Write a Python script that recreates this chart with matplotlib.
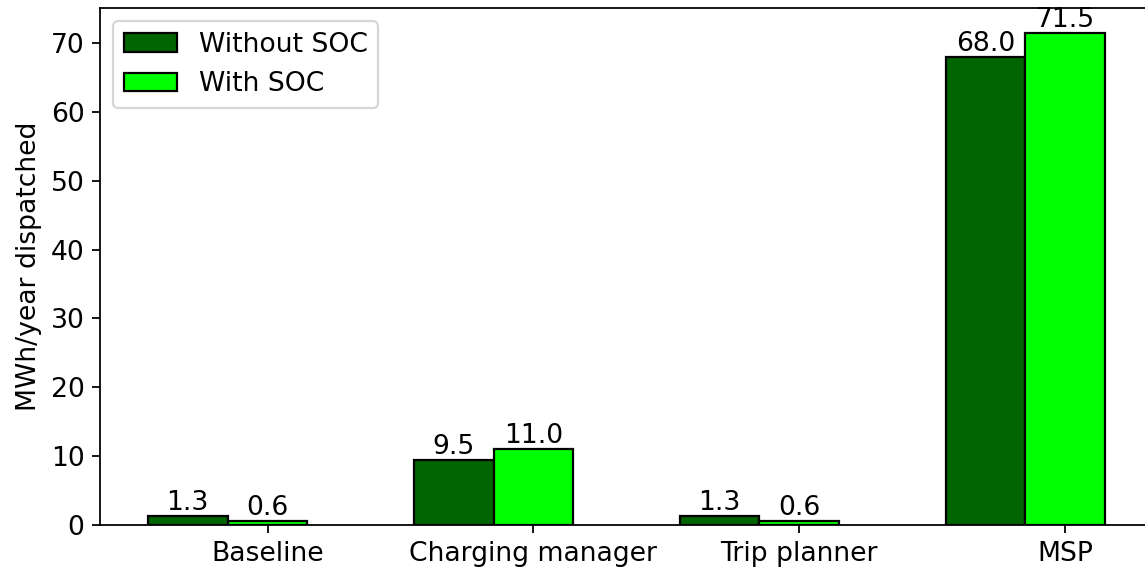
import numpy as np
import matplotlib.pyplot as plt

categories = ['Baseline', 'Charging manager', 'Trip planner', 'MSP']
without_soc = [1.3, 9.5, 1.3, 68.0]
with_soc = [0.6, 11.0, 0.6, 71.5]

plt.rcParams['font.size'] = 12

x = np.arange(len(categories))
width = 0.3

fig = plt.figure(figsize=(1145 / 160, 571 / 160), dpi=160)
ax = fig.add_axes([100 / 1145, 46 / 571, 1053 / 1145, 517 / 571])

b1 = ax.bar(x - width, without_soc, width, color='darkgreen', edgecolor='black', label='Without SOC')
b2 = ax.bar(x, with_soc, width, color='lime', edgecolor='black', label='With SOC')
ax.bar_label(b1, fmt='%.1f')
ax.bar_label(b2, fmt='%.1f')

ax.set_xticks(x)
ax.set_xticklabels(categories)
ax.set_ylabel('MWh/year dispatched')
ax.legend(loc='upper left')

fig.savefig('out.png', dpi=160)
